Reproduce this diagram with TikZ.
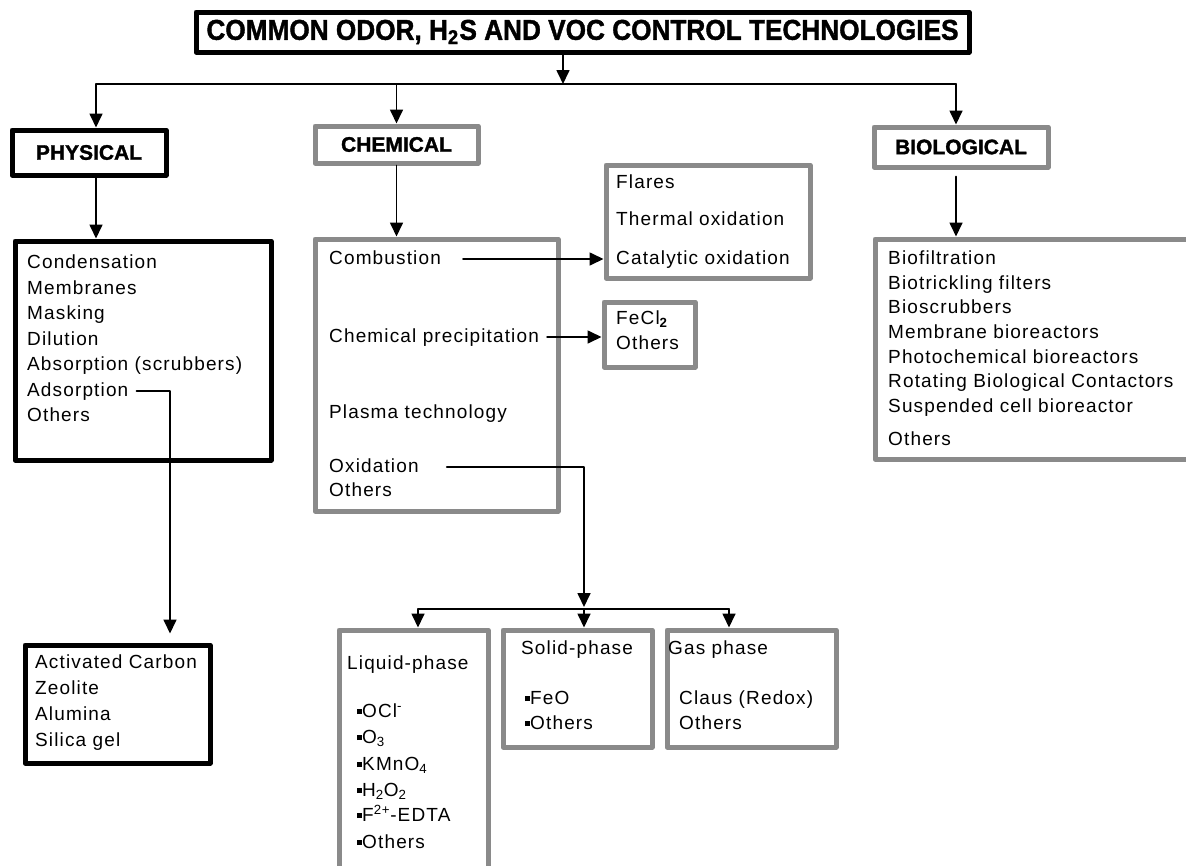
\documentclass[tikz,border=0pt]{standalone}
\usepackage{graphicx}
\usepackage{fontspec}
\setmainfont{Liberation Sans}[LetterSpace=6]
\newfontfamily\headfont{Liberation Sans}[BoldFeatures={FakeBold=1.5}]
\usepackage{tikz}
\usetikzlibrary{arrows.meta,fit}

\definecolor{boxgray}{RGB}{138,138,138}
\newcommand{\sqbul}{\rule[3pt]{5pt}{5pt}}

\tikzset{
  blackbox/.style={draw=black, line width=5pt, inner sep=0pt},
  graybox/.style={draw=boxgray, line width=5pt, inner sep=0pt},
  head/.style={font=\headfont\fontsize{21}{25}\selectfont\bfseries},
  item/.style={anchor=west, inner sep=0pt, text height=14pt, text depth=4pt,
    font=\fontsize{19}{23}\selectfont},
  arr/.style={-{Triangle[width=13pt,length=14pt]}, line width=1.7pt}
}

\begin{document}
\begin{tikzpicture}[x=1pt,y=-1pt, line cap=round, line join=round]
\useasboundingbox (0,0) rectangle (1186,865);

% heading boxes
\node[blackbox, minimum width=773pt, minimum height=40pt] (title) at (582.5,32)
  {\resizebox{752pt}{20pt}{\headfont\bfseries COMMON ODOR, H\textsubscript{2}S AND VOC CONTROL TECHNOLOGIES}};
\node[blackbox, head, minimum width=154pt, minimum height=45pt] (phys) at (89,152.5) {PHYSICAL};
\node[graybox, head, minimum width=163pt, minimum height=37pt] (chem) at (396.5,144.5) {CHEMICAL};
\node[graybox, head, minimum width=174pt, minimum height=40pt] (bio) at (961,147) {BIOLOGICAL};

% list boxes
\node[blackbox, fit={(15,241) (271,460)}] (physlist) {};
\node[graybox, fit={(315,239) (558,511)}] (chemlist) {};
\node[graybox, fit={(875,239) (1195,459)}] (biolist) {};
\node[graybox, fit={(606,165) (810,278)}] (flares) {};
\node[graybox, fit={(604,302) (695,367)}] (fecl) {};
\node[blackbox, fit={(25,645) (210,763)}] (carbon) {};
\node[graybox, fit={(339,630) (488,890)}] (liquid) {};
\node[graybox, fit={(503,630) (652,747)}] (solid) {};
\node[graybox, fit={(667,630) (836,747)}] (gas) {};

% physical
\node[item] (cond) at (27,263) {Condensation};
\node[item] (memb) at (27,289) {Membranes};
\node[item] (mask) at (27,314) {Masking};
\node[item] (dilu) at (27,340) {Dilution};
\node[item] (absorb) at (27,365) {Absorption (scrubbers)};
\node[item] (adsorb) at (27,391) {Adsorption};
\node[item] (physoth) at (27,416) {Others};
\node[item] (actc) at (35,663) {Activated Carbon};
\node[item] (zeol) at (35,689) {Zeolite};
\node[item] (alum) at (35,715) {Alumina};
\node[item] (silg) at (35,741) {Silica gel};

% chemical
\node[item] (combust) at (329,259) {Combustion};
\node[item] (precip) at (329,337) {Chemical precipitation};
\node[item] (plasma) at (329,413) {Plasma technology};
\node[item] (oxid) at (329,467) {Oxidation};
\node[item] (chemoth) at (329,491) {Others};
\node[item] (flare) at (616,183) {Flares};
\node[item] (thermal) at (616,220) {Thermal oxidation};
\node[item] (catal) at (616,259) {Catalytic oxidation};
\node[item] (fecltxt) at (616,319) {FeCl\textsubscript{\bfseries 2}};
\node[item] (fecloth) at (616,344) {Others};

% oxidation phases
\node[item] (liqtxt) at (347,664) {Liquid-phase};
\node[item] (ocl) at (357,712) {\sqbul OCl\textsuperscript{-}};
\node[item] (ozone) at (357,738) {\sqbul O\textsubscript{3}};
\node[item] (kmno) at (357,765) {\sqbul KMnO\textsubscript{4}};
\node[item] (hoo) at (357,791) {\sqbul H\textsubscript{2}O\textsubscript{2}};
\node[item] (edta) at (357,816) {\sqbul F\textsuperscript{2+}-EDTA};
\node[item] (liqoth) at (357,843) {\sqbul Others};
\node[item] (soltxt) at (521,649) {Solid-phase};
\node[item] (feo) at (525,699) {\sqbul FeO};
\node[item] (soloth) at (525,724) {\sqbul Others};
\node[item] (gastxt) at (668,649) {Gas phase};
\node[item] (claus) at (679,699) {Claus (Redox)};
\node[item] (gasoth) at (679,724) {Others};

% biological
\node[item] (biofil) at (888,259) {Biofiltration};
\node[item] (biotrick) at (888,284) {Biotrickling filters};
\node[item] (bioscr) at (888,308) {Bioscrubbers};
\node[item] (membbio) at (888,333) {Membrane bioreactors};
\node[item] (photbio) at (888,358) {Photochemical bioreactors};
\node[item] (rotbio) at (888,382) {Rotating Biological Contactors};
\node[item] (suspbio) at (888,407) {Suspended cell bioreactor};
\node[item] (biooth) at (888,440) {Others};

% connectors
\coordinate (split) at (563,84);
\coordinate (tl) at (96,84);
\coordinate (tr) at (956,84);
\coordinate (oxsplit) at (584,609);
\coordinate (lq) at (418,609);
\coordinate (gs) at (729,609);
\coordinate (adsturn) at (170,0);

\draw[arr] (title.south -| split) -- (split);
\draw[line width=1.7pt] (tl) -- (tr);
\draw[arr] (tl) -- (tl |- phys.north);
\draw[arr] (chem.north |- tl) -- (chem.north);
\draw[arr] (tr) -- (tr |- bio.north);
\draw[arr] (phys.south -| tl) -- (tl |- physlist.north);
\draw[arr] (chem.south) -- (chem.south |- chemlist.north);
\draw[arr, shorten <=7pt] (bio.south -| tr) -- (tr |- biolist.north);
\draw[arr, shorten <=22pt] (combust.east) -- (flares.west |- combust.east);
\draw[arr, shorten <=8pt] (precip.east) -- (fecl.west |- precip.east);
\draw[arr, shorten <=28pt, shorten >=2pt] (oxid.east) -| (oxsplit);
\draw[line width=1.7pt] (lq) -- (gs);
\draw[arr] (lq) -- (lq |- liquid.north);
\draw[arr] (oxsplit) -- (oxsplit |- solid.north);
\draw[arr] (gs) -- (gs |- gas.north);
\draw[arr, shorten <=8pt, shorten >=9pt] (adsorb.east) -| (adsturn |- carbon.north);
\end{tikzpicture}
\end{document}
